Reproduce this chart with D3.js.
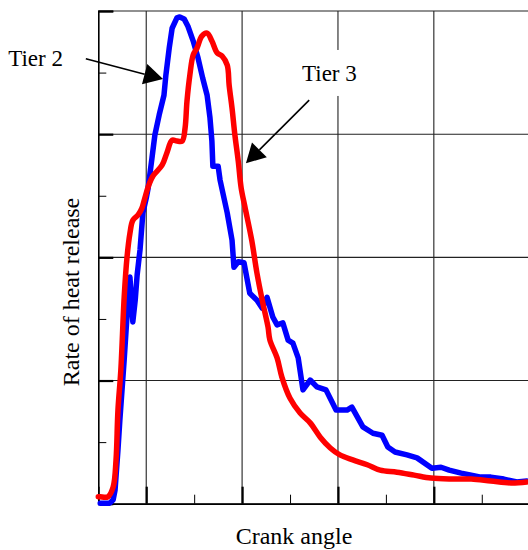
<!DOCTYPE html>
<html>
<head>
<meta charset="utf-8">
<script src="https://cdn.jsdelivr.net/npm/d3@7"></script>
<style>
  body { margin: 0; background: #fff; }
  text { font-family: "Liberation Serif", "Times New Roman", serif; fill: #000; }
</style>
</head>
<body>
<div class="chart"></div>
<script>
// crank angle (deg) vs rate of heat release (% of peak scale)
const tier2X = [-9.6, -8.6, -7.6, -6.9, -6.5, -5.9, -5.5, -4.6, -3.8, -3.4, -2.8, -2.3, -1.9, -1.3, -0.7, 0.0, 0.4, 1.2, 1.8, 2.7, 3.7, 4.1, 4.8, 5.4, 6.4, 7.0, 7.9, 8.7, 9.8, 10.8, 11.8, 12.7, 13.3, 13.7, 13.9, 15.0, 15.4, 16.9, 17.9, 18.3, 19.2, 20.4, 21.6, 23.1, 24.2, 25.2, 26.4, 27.3, 28.5, 29.6, 30.6, 31.7, 32.7, 34.2, 35.6, 37.5, 39.6, 41.9, 42.9, 45.2, 47.3, 49.2, 50.4, 51.9, 54.4, 56.5, 59.6, 61.5, 63.2, 65.7, 67.8, 69.8, 71.9, 74.6, 77.3, 79.4];
const tier2Y = [0.1, 0.1, 0.1, 0.8, 2.8, 10.9, 17.0, 29.2, 41.3, 46.0, 36.9, 41.3, 46.4, 51.5, 59.0, 62.0, 64.1, 70.2, 74.8, 78.9, 82.9, 87.0, 92.5, 96.5, 98.6, 98.8, 98.4, 96.9, 93.9, 90.5, 86.3, 82.9, 78.3, 73.6, 68.5, 68.5, 65.7, 59.0, 53.5, 48.0, 49.1, 48.9, 42.7, 41.3, 39.7, 41.9, 37.9, 36.3, 36.7, 33.2, 32.6, 29.6, 23.1, 25.1, 23.7, 23.1, 19.0, 19.0, 19.6, 15.6, 14.3, 13.9, 11.5, 10.5, 9.9, 9.3, 7.2, 7.4, 6.8, 6.2, 5.8, 5.4, 5.4, 5.0, 4.4, 4.6];

const tier3X = [-10.0, -9.6, -8.0, -6.9, -6.3, -5.9, -5.3, -4.6, -4.0, -3.4, -2.8, -1.7, -0.9, -0.3, 0.4, 1.4, 3.3, 4.3, 5.4, 6.4, 7.5, 8.1, 8.5, 9.1, 9.8, 10.6, 11.6, 12.7, 13.7, 14.8, 15.8, 16.9, 17.3, 17.9, 18.5, 19.2, 19.8, 20.6, 22.0, 23.1, 24.2, 25.4, 25.8, 27.3, 28.3, 30.0, 32.1, 34.2, 36.3, 38.4, 40.4, 43.1, 46.1, 48.8, 52.3, 55.9, 59.4, 63.6, 67.8, 71.9, 76.1, 79.4];
const tier3Y = [1.4, 1.4, 1.4, 3.4, 8.9, 19.0, 27.1, 41.9, 50.1, 54.9, 57.5, 58.6, 60.0, 62.0, 64.3, 66.5, 68.7, 71.2, 73.8, 73.6, 73.6, 76.2, 81.7, 87.0, 91.1, 92.5, 94.9, 95.5, 93.9, 91.5, 90.9, 89.0, 84.9, 80.3, 74.8, 69.5, 64.1, 60.2, 53.5, 46.8, 41.3, 35.9, 33.2, 29.6, 25.7, 21.4, 18.4, 16.4, 13.5, 11.3, 9.9, 8.9, 7.9, 6.8, 6.4, 5.8, 5.2, 5.0, 5.0, 4.6, 4.2, 4.4];

const xMajor = [0, 20, 40, 60, 80];
const xMinor = [-10, 10, 30, 50, 70];
const yMajor = [0, 25, 50, 75, 100];
const yMinor = [12.5, 37.5, 62.5, 87.5];

const labels = [
  { text: "Tier 2", x: -28.8, y: 88.8, from: [-12.6, 90.3], to: [3.5, 86.2], box: false },
  { text: "Tier 3", x: 32.5, y: 85.8, from: [34.0, 81.9], to: [20.8, 69.1], box: true }
];

const margin = { top: 11, right: 0, bottom: 46.3, left: 98.3 };
const width = 528, height = 550;
const plotW = 529.7 - margin.left, plotH = height - margin.top - margin.bottom;

const svg = d3.select(".chart").append("svg")
  .attr("width", width)
  .attr("height", height);

const g = svg.append("g")
  .attr("transform", `translate(${margin.left},${margin.top})`);

const xScale = d3.scaleLinear().domain([-10, 80]).range([0, plotW]);
const yScale = d3.scaleLinear().domain([0, 100]).range([plotH, 0]);

// grid
g.append("g").selectAll("line").data(xMajor.filter(d => d > -10)).join("line")
  .attr("x1", d => xScale(d)).attr("x2", d => xScale(d))
  .attr("y1", 0).attr("y2", plotH)
  .attr("stroke", "#222").attr("stroke-width", 1.1);

g.append("g").selectAll("line").data(yMajor).join("line")
  .attr("x1", 0).attr("x2", plotW)
  .attr("y1", d => yScale(d)).attr("y2", d => yScale(d))
  .attr("stroke", "#222").attr("stroke-width", 1.1);

// axes (ticks drawn inward)
const yAxisMajor = d3.axisRight(yScale).tickValues(yMajor).tickSize(15).tickFormat("");
const yAxisMinor = d3.axisRight(yScale).tickValues(yMinor).tickSize(8).tickFormat("");
const xAxisMajor = d3.axisTop(xScale).tickValues(xMajor).tickSize(17).tickFormat("");
const xAxisMinor = d3.axisTop(xScale).tickValues(xMinor).tickSize(9).tickFormat("");

g.append("g").attr("class", "axis").call(yAxisMajor)
  .call(a => a.selectAll(".tick line").attr("stroke-width", 2.2))
  .call(a => a.select(".domain").attr("stroke-width", 1.6));
g.append("g").attr("class", "axis").call(yAxisMinor)
  .call(a => a.select(".domain").remove());
g.append("g").attr("class", "axis").attr("transform", `translate(0,${plotH})`).call(xAxisMajor)
  .call(a => a.selectAll(".tick line").attr("stroke-width", 2.2))
  .call(a => a.select(".domain").attr("stroke-width", 1.6));
g.append("g").attr("class", "axis").attr("transform", `translate(0,${plotH})`).call(xAxisMinor)
  .call(a => a.select(".domain").remove());

// curves: tier 2 is jagged, tier 3 is smooth
const line = d3.line()
  .x(d => xScale(d[0]))
  .y(d => yScale(d[1]));

g.append("path")
  .datum(d3.zip(tier2X, tier2Y))
  .attr("fill", "none")
  .attr("stroke", "#0000ff")
  .attr("stroke-width", 5.5)
  .attr("stroke-linejoin", "round")
  .attr("stroke-linecap", "round")
  .attr("d", line.curve(d3.curveLinear));

g.append("path")
  .datum(d3.zip(tier3X, tier3Y))
  .attr("fill", "none")
  .attr("stroke", "#ff0000")
  .attr("stroke-width", 5.5)
  .attr("stroke-linejoin", "round")
  .attr("stroke-linecap", "round")
  .attr("d", line.curve(d3.curveCatmullRom.alpha(0.5)));

// annotations
labels.forEach(l => {
  const tx = xScale(l.x), ty = yScale(l.y);
  if (l.box) {
    g.append("rect")
      .attr("x", tx - 4).attr("y", ty - 31)
      .attr("width", 64).attr("height", 46)
      .attr("fill", "#fff");
  }
  g.append("text")
    .attr("x", tx).attr("y", ty)
    .attr("font-size", 23)
    .text(l.text);

  const x0 = xScale(l.from[0]), y0 = yScale(l.from[1]);
  const x1 = xScale(l.to[0]), y1 = yScale(l.to[1]);
  const ang = Math.atan2(y1 - y0, x1 - x0);
  const headLen = 19, headW = 10.5;
  const bx = x1 - headLen * Math.cos(ang), by = y1 - headLen * Math.sin(ang);
  g.append("line")
    .attr("x1", x0).attr("y1", y0).attr("x2", bx).attr("y2", by)
    .attr("stroke", "#000").attr("stroke-width", 1.6);
  g.append("path")
    .attr("d", d3.line()([
      [x1, y1],
      [bx + headW * Math.sin(ang), by - headW * Math.cos(ang)],
      [bx - headW * Math.sin(ang), by + headW * Math.cos(ang)]
    ]) + "Z")
    .attr("fill", "#000");
});

// axis titles
svg.append("text")
  .attr("x", 294).attr("y", 544)
  .attr("text-anchor", "middle")
  .attr("font-size", 24)
  .text("Crank angle");

svg.append("text")
  .attr("transform", "translate(79,292) rotate(-90)")
  .attr("text-anchor", "middle")
  .attr("font-size", 24)
  .text("Rate of heat release");
</script>
</body>
</html>
